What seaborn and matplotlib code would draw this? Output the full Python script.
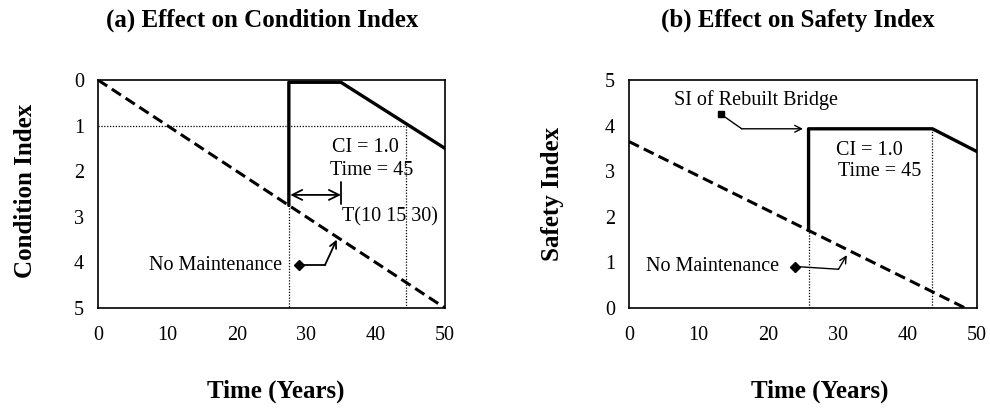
import numpy as np
import pandas as pd
import matplotlib
matplotlib.use("Agg")
import matplotlib.pyplot as plt
import seaborn as sns

# ---------------- data ----------------
# (a) Condition Index
ci_nomaint_t = [0, 50]
ci_nomaint_v = [0.0, 5.0]
ci_rebuilt_t = [27.5, 27.5, 35.0, 50.0]
ci_rebuilt_v = [2.75, 0.05, 0.05, 1.5]
ci_threshold = 1.0
ci_threshold_time = 44.4

# (b) Safety Index
si_nomaint_t = [0, 48.3]
si_nomaint_v = [3.65, 0.0]
si_rebuilt_t = [25.8, 25.8, 43.6, 50.0]
si_rebuilt_v = [1.70, 3.93, 3.93, 3.43]

x_ticks = [0, 10, 20, 30, 40, 50]
y_ticks = [0, 1, 2, 3, 4, 5]

titles = ["(a) Effect on Condition Index", "(b) Effect on Safety Index"]
ylabels = ["Condition Index", "Safety Index"]
xlabel = "Time (Years)"

# ---------------- style ----------------
sns.set_theme(style="white")
plt.rcParams["font.family"] = ["Liberation Serif", "DejaVu Serif"]
plt.rcParams["axes.edgecolor"] = "black"
plt.rcParams["axes.linewidth"] = 1.2
plt.rcParams["text.color"] = "black"
plt.rcParams["axes.labelcolor"] = "black"
plt.rcParams["xtick.color"] = "black"
plt.rcParams["ytick.color"] = "black"

FS = 14.5
FSB = 18

fig = plt.figure(figsize=(9.9, 4.08), dpi=100)
axL = fig.add_axes([98/990, 1-308/408, 347/990, 228/408])
axR = fig.add_axes([629/990, 1-308/408, 348/990, 228/408])

dash = (0, (3.6, 1.8))
dot_kw = dict(color="black", lw=0.9, linestyle=(0, (1, 1.3)))

def draw_series(ax, t, v, **kw):
    df = pd.DataFrame({"t": t, "v": v})
    sns.lineplot(data=df, x="t", y="v", ax=ax, sort=False, estimator=None,
                 color="black", **kw)

# ---- panel (a)
draw_series(axL, ci_nomaint_t, ci_nomaint_v, lw=2.2, linestyle=dash)
draw_series(axL, ci_rebuilt_t, ci_rebuilt_v, lw=2.4)
axL.plot([0, ci_threshold_time], [ci_threshold, ci_threshold], **dot_kw)
axL.plot([ci_rebuilt_t[0]]*2, [ci_rebuilt_v[0], 5], **dot_kw)
axL.plot([ci_threshold_time]*2, [ci_threshold, 5], **dot_kw)
axL.set_xlim(0, 50)
axL.set_ylim(5, 0)

axL.annotate("", xy=(27.7, 2.52), xytext=(35.0, 2.52),
             arrowprops=dict(arrowstyle="<->", color="black", lw=1.3,
                             mutation_scale=18, shrinkA=0, shrinkB=0))
axL.plot([35.0, 35.0], [2.23, 2.72], color="black", lw=1.3)
axL.text(35.1, 3.0, "T(10 15 30)", fontsize=FS, va="center", ha="left")
axL.text(33.7, 1.48, "CI = 1.0", fontsize=FS, va="center", ha="left")
axL.text(33.4, 1.99, "Time = 45", fontsize=FS, va="center", ha="left")
axL.text(26.5, 4.06, "No Maintenance", fontsize=FS, va="center", ha="right")
axL.plot([29.0, 32.7], [4.06, 4.06], color="black", lw=1.3,
         marker="D", markersize=5, markevery=[0])
axL.annotate("", xy=(34.4, 3.5), xytext=(32.7, 4.06),
             arrowprops=dict(arrowstyle="->", color="black", lw=1.3,
                             mutation_scale=12, shrinkA=0, shrinkB=0))

# ---- panel (b)
draw_series(axR, si_nomaint_t, si_nomaint_v, lw=2.2, linestyle=dash)
draw_series(axR, si_rebuilt_t, si_rebuilt_v, lw=2.4)
axR.plot([si_rebuilt_t[0]]*2, [0, si_rebuilt_v[0]], **dot_kw)
axR.plot([si_rebuilt_t[2]]*2, [0, si_rebuilt_v[2]], **dot_kw)
axR.set_xlim(0, 50)
axR.set_ylim(0, 5)

axR.text(6.4, 4.56, "SI of Rebuilt Bridge", fontsize=FS, va="center", ha="left")
axR.plot([13.2, 16.2], [4.25, 3.93], color="black", lw=1.0,
         marker="s", markersize=5, markevery=[0])
axR.annotate("", xy=(25.0, 3.93), xytext=(16.2, 3.93),
             arrowprops=dict(arrowstyle="->", color="black", lw=1.0,
                             mutation_scale=12, shrinkA=0, shrinkB=0))
axR.text(29.7, 3.46, "CI = 1.0", fontsize=FS, va="center", ha="left")
axR.text(30.0, 2.99, "Time = 45", fontsize=FS, va="center", ha="left")
axR.text(2.5, 0.91, "No Maintenance", fontsize=FS, va="center", ha="left")
axR.plot([23.9, 30.1], [0.91, 0.85], color="black", lw=1.0,
         marker="D", markersize=5, markevery=[0])
axR.annotate("", xy=(31.3, 1.16), xytext=(30.1, 0.85),
             arrowprops=dict(arrowstyle="->", color="black", lw=1.0,
                             mutation_scale=12, shrinkA=0, shrinkB=0))

label_pos = {
    "title": [(261.7, 20), (798, 20)],
    "xlabel": [(276, 391), (820, 391)],
    "ylabel": [(26, 191), (553, 194)],
}

for i, ax in enumerate([axL, axR]):
    ax.set_xticks(x_ticks)
    ax.set_yticks(y_ticks)
    ax.set_xticklabels([str(v) for v in x_ticks])
    ax.set_yticklabels([str(v) for v in y_ticks])
    ax.tick_params(axis="both", length=0, labelsize=FS, colors="black")
    ax.tick_params(axis="x", pad=13)
    ax.tick_params(axis="y", pad=10)
    for s in ax.spines.values():
        s.set_visible(True)
        s.set_color("black")
        s.set_linewidth(1.2)
    ax.set_xlabel("")
    ax.set_ylabel("")
    tx, ty = label_pos["title"][i]
    fig.text(tx/990, 1-ty/408, titles[i], fontsize=FSB, fontweight="bold",
             ha="center", va="center", color="black")
    lx, ly = label_pos["xlabel"][i]
    fig.text(lx/990, 1-ly/408, xlabel, fontsize=FSB, fontweight="bold",
             ha="center", va="center", color="black")
    yx, yy = label_pos["ylabel"][i]
    fig.text(yx/990, 1-yy/408, ylabels[i], fontsize=FSB, fontweight="bold",
             ha="center", va="center", rotation=90, color="black")

fig.savefig("out.png", dpi=100, facecolor="white")
